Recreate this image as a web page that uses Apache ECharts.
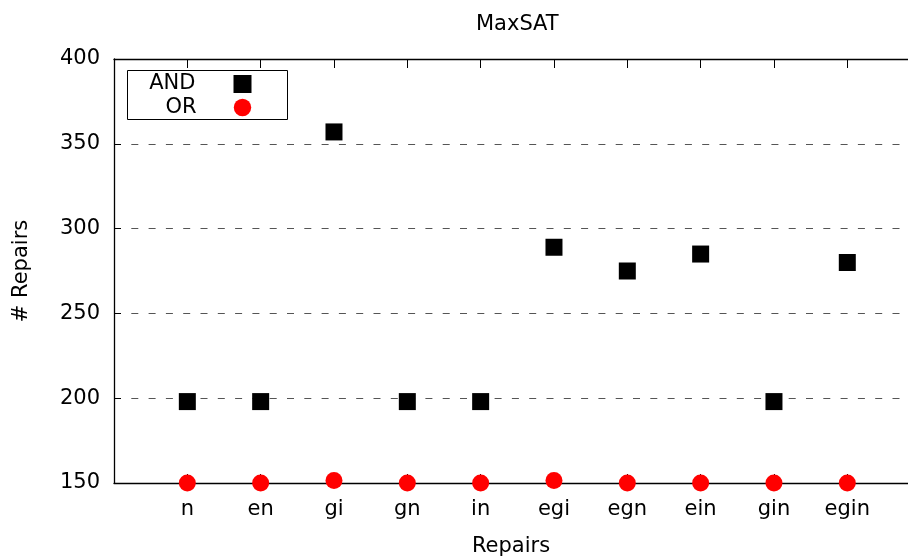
<!DOCTYPE html>
<html>
<head>
<meta charset="utf-8">
<script src="https://cdn.jsdelivr.net/npm/echarts@6/dist/echarts.min.js"></script>
<style>
  html, body { margin: 0; padding: 0; background: #fff; }
  #chart { width: 908px; height: 556px; }
</style>
</head>
<body>
<div id="chart"></div>
<script>
// Repair combinations along the x axis
const categories = ['n', 'en', 'gi', 'gn', 'in', 'egi', 'egn', 'ein', 'gin', 'egin'];
// Number of repairs per combination
const andRepairs = [198, 198, 357, 198, 198, 289, 275, 285, 198, 280];
const orRepairs = [150, 150, 151.5, 150, 150, 151.5, 150, 150, 150, 150];
// Y axis ticks
const yTicks = { min: 150, max: 400, step: 50 };

const FONT = 'DejaVu Sans';
const FS = 21;

const toPoints = vals => vals.map((v, i) => [i + 1, v]);

const chart = echarts.init(document.getElementById('chart'), null, { renderer: 'canvas' });

// The x range runs from 0 to 11 slots; the right part of the frame is cut by the canvas edge.
const plotLeft = 114, plotTop = 59, plotH = 424;
const slot = 73.33;
const visibleW = 908 - plotLeft;
const xMax = visibleW / slot;
const titleCenter = plotLeft + slot * (categories.length + 1) / 2;

chart.setOption({
  animation: false,
  backgroundColor: '#fff',
  textStyle: { fontFamily: FONT, color: '#000' },
  title: {
    text: 'MaxSAT',
    left: titleCenter - 5,
    textAlign: 'center',
    top: 9,
    textStyle: { fontFamily: FONT, fontSize: FS, fontWeight: 'normal', color: '#000' }
  },
  grid: {
    left: plotLeft, top: plotTop, right: 0, height: plotH,
    containLabel: false, outerBoundsMode: 'none'
  },
  xAxis: [
    {
      type: 'value',
      min: 0, max: xMax, interval: 1,
      position: 'bottom',
      name: 'Repairs',
      nameLocation: 'middle',
      nameGap: 53,
      nameTextStyle: { fontFamily: FONT, fontSize: FS, color: '#000' },
      axisLine: { show: true, lineStyle: { color: '#000', width: 1.3 } },
      axisTick: { show: true, inside: true, length: 9, lineStyle: { color: '#000' } },
      axisLabel: {
        margin: 16, fontFamily: FONT, fontSize: FS, color: '#000',
        showMaxLabel: false,
        formatter: v => categories[v - 1] || ''
      },
      splitLine: { show: false }
    },
    {
      type: 'value',
      min: 0, max: xMax, interval: 1,
      position: 'top',
      axisLine: { show: true, lineStyle: { color: '#000', width: 1.3 } },
      axisTick: { show: true, inside: true, length: 9, lineStyle: { color: '#000' } },
      axisLabel: { show: false },
      splitLine: { show: false }
    }
  ],
  yAxis: {
    type: 'value',
    min: yTicks.min, max: yTicks.max, interval: yTicks.step,
    name: '# Repairs',
    nameLocation: 'middle',
    nameGap: 82,
    nameTextStyle: { fontFamily: FONT, fontSize: FS, color: '#000' },
    axisLine: { show: true, lineStyle: { color: '#000', width: 1.3 } },
    axisTick: { show: true, inside: true, length: 7, lineStyle: { color: '#000' } },
    axisLabel: { margin: 14, padding: [4, 0, 0, 0], fontFamily: FONT, fontSize: FS, color: '#000' },
    splitLine: { show: true, lineStyle: { color: '#555', width: 1.2, type: [7, 10.3] } }
  },
  graphic: [
    {
      type: 'group',
      left: 127, top: 70,
      children: [
        { type: 'rect', shape: { x: 0, y: 0, width: 160, height: 49 },
          style: { fill: '#fff', stroke: '#000', lineWidth: 1 } },
        { type: 'text', x: 68, y: 13,
          style: { text: 'AND', font: FS + 'px "' + FONT + '"', fill: '#000', align: 'right', verticalAlign: 'middle' } },
        { type: 'rect', shape: { x: 106, y: 4.5, width: 18, height: 18 }, style: { fill: '#000' } },
        { type: 'text', x: 69, y: 37,
          style: { text: 'OR', font: FS + 'px "' + FONT + '"', fill: '#000', align: 'right', verticalAlign: 'middle' } },
        { type: 'circle', shape: { cx: 115, cy: 37, r: 8.7 }, style: { fill: '#ff0000' } }
      ]
    }
  ],
  series: [
    {
      name: 'AND',
      type: 'scatter',
      symbol: 'rect',
      symbolSize: 17,
      clip: false,
      itemStyle: { color: '#000', opacity: 1 },
      data: toPoints(andRepairs)
    },
    {
      name: 'OR',
      type: 'scatter',
      symbol: 'circle',
      symbolSize: 17,
      clip: false,
      itemStyle: { color: '#ff0000', opacity: 1 },
      data: toPoints(orRepairs)
    }
  ]
});
</script>
</body>
</html>
